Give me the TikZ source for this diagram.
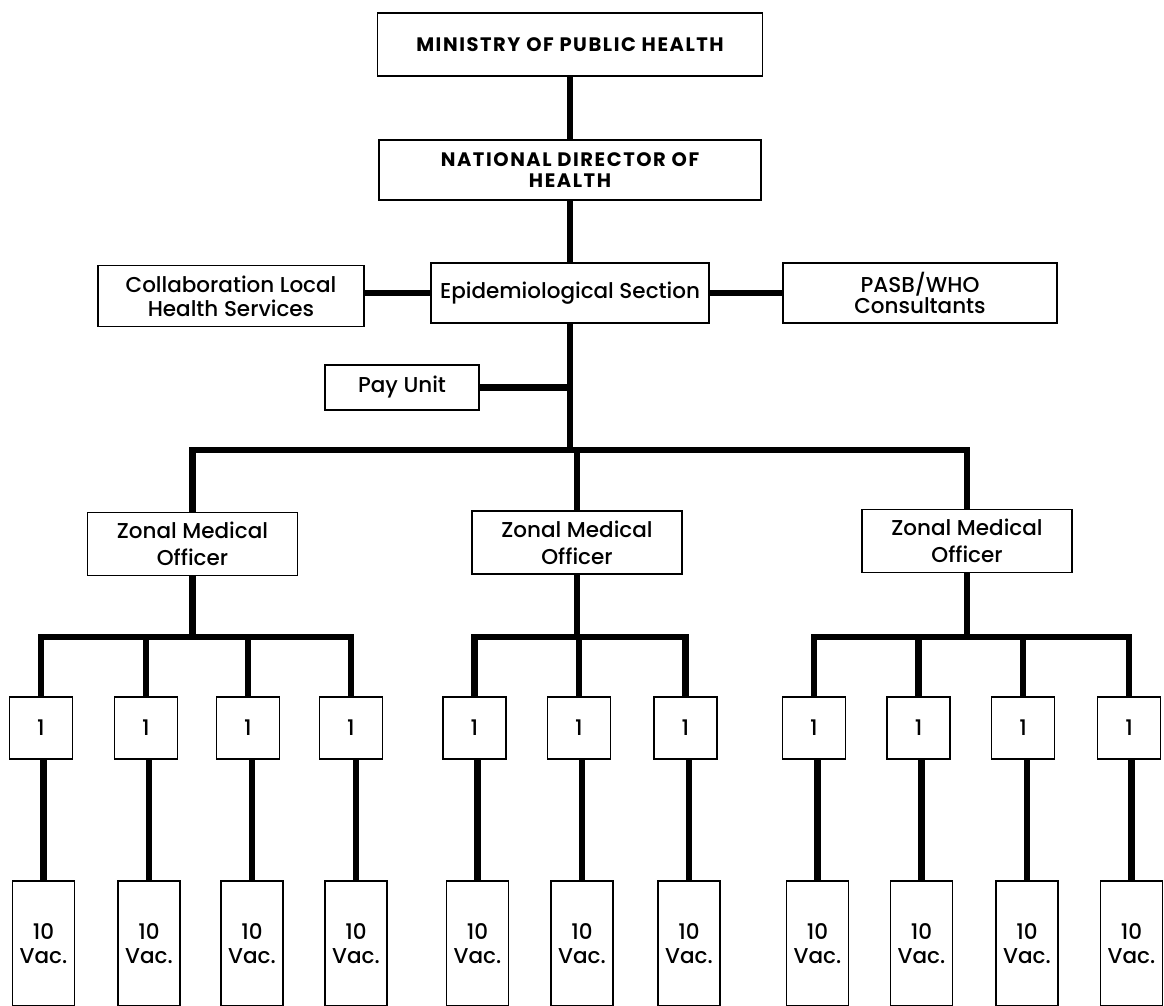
\documentclass[tikz,border=0pt]{standalone}
\usepackage{fontspec}
\setmainfont{Poppins}[UprightFont=* Medium, BoldFont=* Bold]
\begin{document}
\begin{tikzpicture}[x=1pt,y=-1pt,
  box/.style={draw,line width=1.6pt,rectangle,inner sep=0pt,align=center,
    font=\fontsize{21.5}{24}\selectfont},
  capbox/.style={box,font=\bfseries\fontsize{19.5}{21}\selectfont\addfontfeature{LetterSpace=8}},
  zonal/.style={box,minimum width=210pt,minimum height=63pt,font=\fontsize{21.5}{27}\selectfont},
  unit/.style={box,minimum width=63pt,minimum height=62pt},
  vac/.style={box,minimum width=62pt,minimum height=125pt},
  conn/.style={line width=6.5pt,line join=miter}]
\useasboundingbox (0,0) rectangle (1164,1006);
% top levels
\node[capbox,minimum width=385pt,minimum height=63pt] (mph) at (570,44.5) {MINISTRY OF PUBLIC HEALTH};
\node[capbox,minimum width=382pt,minimum height=60pt] (nat) at (570,170) {NATIONAL DIRECTOR OF\\HEALTH};
\node[box,minimum width=278pt,minimum height=60pt] (epi) at (570,293) {Epidemiological Section};
\node[box,minimum width=266pt,minimum height=61pt] (col) at (231,296) {Collaboration Local\\Health Services};
\node[box,minimum width=274pt,minimum height=60pt,font=\fontsize{21.5}{21}\selectfont] (pasb) at (920,293) {PASB/WHO\\Consultants};
\node[box,minimum width=154pt,minimum height=45pt] (pay) at (402,387.5) {Pay Unit};
% zonal officers
\node[zonal] (zl) at (192.5,544) {Zonal Medical\\Officer};
\node[zonal] (zm) at (577,542.5) {Zonal Medical\\Officer};
\node[zonal] (zr) at (967,541) {Zonal Medical\\Officer};
% units
\foreach \n/\x in {1/41,2/146,3/248,4/351,5/474.5,6/579,7/685.5,8/814,9/918.5,10/1023,11/1129}
  \node[unit] (u\n) at (\x,728) {1};
% vaccinators
\foreach \n/\x in {1/43.5,2/149,3/252,4/356,5/477.5,6/582,7/689,8/817.5,9/921.5,10/1027,11/1131.5}
  \node[vac] (v\n) at (\x,943.5) {10\\Vac.};
% coordinates
\coordinate (bar) at (570,450);
\coordinate (sl) at (192.5,637);
\coordinate (sm) at (577,637);
\coordinate (sr) at (967,637);
% connectors
\draw[conn] (mph.south) -- (nat.north);
\draw[conn] (nat.south) -- (epi.north);
\draw[conn] (col.east |- epi.west) -- (epi.west);
\draw[conn] (epi.east) -- (pasb.west);
\draw[conn] (epi.south) -- (bar);
\draw[conn] (pay.east) -- (pay.east -| bar);
\draw[conn] (zl.north) -- (zl.north |- bar) -- (zr.north |- bar) -- (zr.north);
\draw[conn] (zm.north |- bar) -- (zm.north);
\draw[conn] (zl.south) -- (sl);
\draw[conn] (zm.south) -- (sm);
\draw[conn] (zr.south) -- (sr);
\draw[conn] (u1.north) -- (u1.north |- sl) -- (u4.north |- sl) -- (u4.north);
\draw[conn] (u2.north) -- (u2.north |- sl);
\draw[conn] (u3.north) -- (u3.north |- sl);
\draw[conn] (u5.north) -- (u5.north |- sm) -- (u7.north |- sm) -- (u7.north);
\draw[conn] (u6.north) -- (u6.north |- sm);
\draw[conn] (u8.north) -- (u8.north |- sr) -- (u11.north |- sr) -- (u11.north);
\draw[conn] (u9.north) -- (u9.north |- sr);
\draw[conn] (u10.north) -- (u10.north |- sr);
\foreach \n in {1,...,11}
  \draw[conn] (v\n.north |- u\n.south) -- (v\n.north);
\end{tikzpicture}
\end{document}
